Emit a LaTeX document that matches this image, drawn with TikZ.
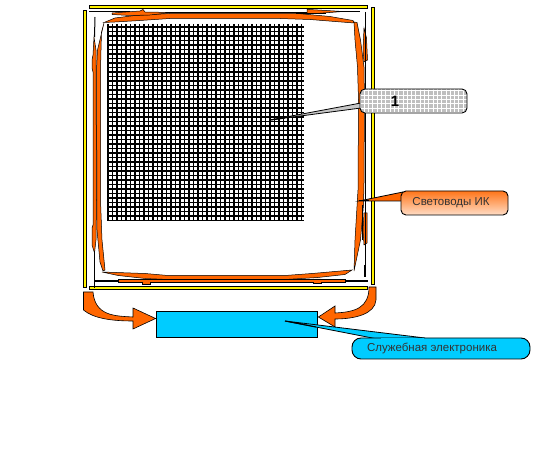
\documentclass[tikz,border=0pt]{standalone}
\usepackage{fontspec}
\setmainfont{Liberation Sans}
\usetikzlibrary{calc,positioning}
\definecolor{fibre}{RGB}{255,102,0}
\definecolor{lightblue}{RGB}{0,204,255}
\tikzset{
  rail/.style={
    draw,
    fill = yellow,
    line width = 0.8pt
  },
  fibre/.style={
    draw,
    fill = fibre,
    line width = 0.5pt
  },
  wire/.style={
    line width = 1pt
  },
  elbow/.style={
    draw,
    fill = fibre,
    line width = 0.6pt
  },
  label/.style={
    draw,
    line width = 0.9pt,
    inner sep = 0pt,
    minimum width = 107pt,
    minimum height = 24pt,
    rounded corners = 5pt,
    font = \fontsize{11.5}{13}\selectfont,
    text = black!80
  },
}
\begin{document}
\begin{tikzpicture}[x=1pt,y=-1pt]
    \def\dx{4.5}
    \useasboundingbox (0,0) rectangle (539,462);
    % rails
    \draw[rail] (89,5) rectangle (367,8.5);
    \draw[rail] (89,286) rectangle (367,289);
    \draw[rail] (83.5,10) rectangle (86.5,287);
    \draw[rail] (371,7.5) rectangle (374,284);
    % grid
    \foreach \i in {0,...,43}{
    \draw[line width=1.5pt] (108+\i*\dx,24) --++ (0,196);
    \draw[line width=1.2pt] (107,27+\i*\dx) --++ (197,0);};
    % fibres, top
    \draw[fibre] (104,22.5) -- (115,18) -- (135,15.5) -- (170,13.5) -- (298,13.5) -- (308,14.5) -- (330,16.5) -- (353,20.5) -- (354,23) -- (335,21.5) -- (310,19.5) -- (280,18.5) -- (170,18.5) -- (140,20.5) -- (115,22) -- cycle;
    \draw[fibre] (112,13) -- (140,11) -- (143,9.5) -- (145,12) -- (172,12.5) -- (150,15) -- (130,15.5) -- (112,14.5) -- cycle;
    \draw[fibre] (307,9) -- (309,9.5) -- (343,11.5) -- (310,14) -- (307,14) -- cycle;
    \draw[wire] (89,12) -- (130,12);
    \draw[wire] (172,13) -- (307,13);
    \draw[wire] (296,14) -- (326,14);
    \draw[wire] (343,12) -- (360,12);
    % fibres, right
    \draw[fibre] (354,22) -- (357,22.5) -- (360.5,40) -- (364,67) -- (364.5,100) -- (364,183) -- (363.5,205) -- (360.5,240) -- (354,271) -- (355,240) -- (358,190) -- (358.5,100) -- (357.5,67) -- (355,40) -- cycle;
    \draw[fibre] (364,28) -- (366.5,38) -- (367.5,60) -- (364,62) -- (363,50) -- cycle;
    \draw[fibre] (364,213) -- (367,213) -- (367,243) -- (364,245) -- (363,230) -- cycle;
    \draw[line width=0.6pt] (365,12) -- (365,277);
    \draw[wire] (362.5,205) -- (362.5,240);
    % fibres, bottom
    \draw[fibre] (102,272) -- (145,273.5) -- (168,275.5) -- (285,275.5) -- (312,273.5) -- (352,270) -- (345,274.5) -- (318,277.5) -- (285,279.5) -- (168,279.5) -- (145,278.5) -- (118,275.5) -- cycle;
    \draw[fibre] (118,279.5) -- (142,279.5) -- (142,279) -- (150,279) -- (150,279.5) -- (313,279.5) -- (313,279) -- (321,279) -- (321,279.5) -- (345,279.5) -- (345,282.5) -- (321,282.5) -- (321,283.5) -- (313,283.5) -- (313,282.5) -- (150,282.5) -- (150,284) -- (142,284) -- (142,282.5) -- (118,282.5) -- cycle;
    \draw[line width=1.3pt] (95,281) -- (118,281);
    \draw[line width=1.3pt] (345,281) -- (368,281);
    \draw[wire] (364,265) -- (364,277);
    % fibres, left
    \draw[fibre] (104,23) -- (101.5,32) -- (101,50) -- (100.5,70) -- (100.5,200) -- (102,240) -- (105,270) -- (103,271) -- (100,262) -- (97,230) -- (96.5,70) -- (97.5,50) -- cycle;
    \draw[fibre] (94,37) -- (96,50) -- (96.5,200) -- (96,240) -- (94.5,253) -- (92,245) -- (92,228) -- (93,225) -- (93,72) -- (92,68) -- (92,60) -- (93,55) -- cycle;
    \draw[wire] (95,17) -- (94.5,37);
    \draw[wire] (94.5,253) -- (94.5,288);
    % electronics
    \node[draw, line width=0.8pt, fill=lightblue, inner sep=0pt, minimum width=161pt, minimum height=26pt] (box) at (236.5,324) {};
    \coordinate (boxtip) at (285,321);
    % elbows
    \draw[elbow] (box.west) ++(0,-5.5) -- (133,308) -- (133,317) .. controls (115,316) and (95,316) .. (93,292) -- (83.5,292) -- (83.5,310) .. controls (93,318) and (110,321) .. (133,321) -- (133,329) -- cycle;
    \draw[elbow] (box.east) ++(1,-7) -- (335,306) -- (335,313) .. controls (355,312) and (369,308) .. (369,287) -- (376,287) -- (376,300) .. controls (375,314) and (355,319) .. (335,319) -- (335,327) -- cycle;
    % labels
    \coordinate (gridtip) at (270,120);
    \coordinate (guidetip) at (359,201);
    \path[draw, fill=lightblue, line width=0.8pt] (boxtip) -- (425,338) -- (380,339.5) -- cycle;
    \draw[wire] (boxtip) -- (316,327);
    \node[label, fill=lightblue, rounded corners=9pt, minimum width=178pt, minimum height=21pt] (servicelabel) at (441,348.5) {Служебная электроника\hspace{18pt}\mbox{}};
    \fill[lightblue] (381,339) -- (424,339) -- (424,338) -- (381,338) -- cycle;
    \draw[fill=black!22, line width=0.8pt] (gridtip) -- (361,103) -- (361,108) -- cycle;
    \draw[line width=1.2pt] (gridtip) -- (285,118);
    \node[label, fill=black!25, font=\bfseries\fontsize{15}{17}\selectfont, text=black,
      path picture={
        \foreach \k in {0,...,25}{
        \draw[white, line width=1pt] (path picture bounding box.north west) ++(\k*4.3,0) --++ (0,24);};
        \foreach \k in {0,...,6}{
        \draw[white, line width=1pt] (path picture bounding box.north west) ++(0,2+\k*4.3) --++ (107,0);};
      }] (gridlabel) at (413.5,101) {1\hspace{37pt}\mbox{}};
    \draw[fill=fibre, line width=0.8pt] (guidetip) -- (403,192) -- (403,201) -- cycle;
    \draw[wire] (guidetip) -- (369,201);
    \node[label, top color=fibre!90, bottom color=fibre!22, draw=black] (guidelabel) at (454.5,203) {Световоды ИК\hspace{7pt}\mbox{}};
\end{tikzpicture}
\end{document}
